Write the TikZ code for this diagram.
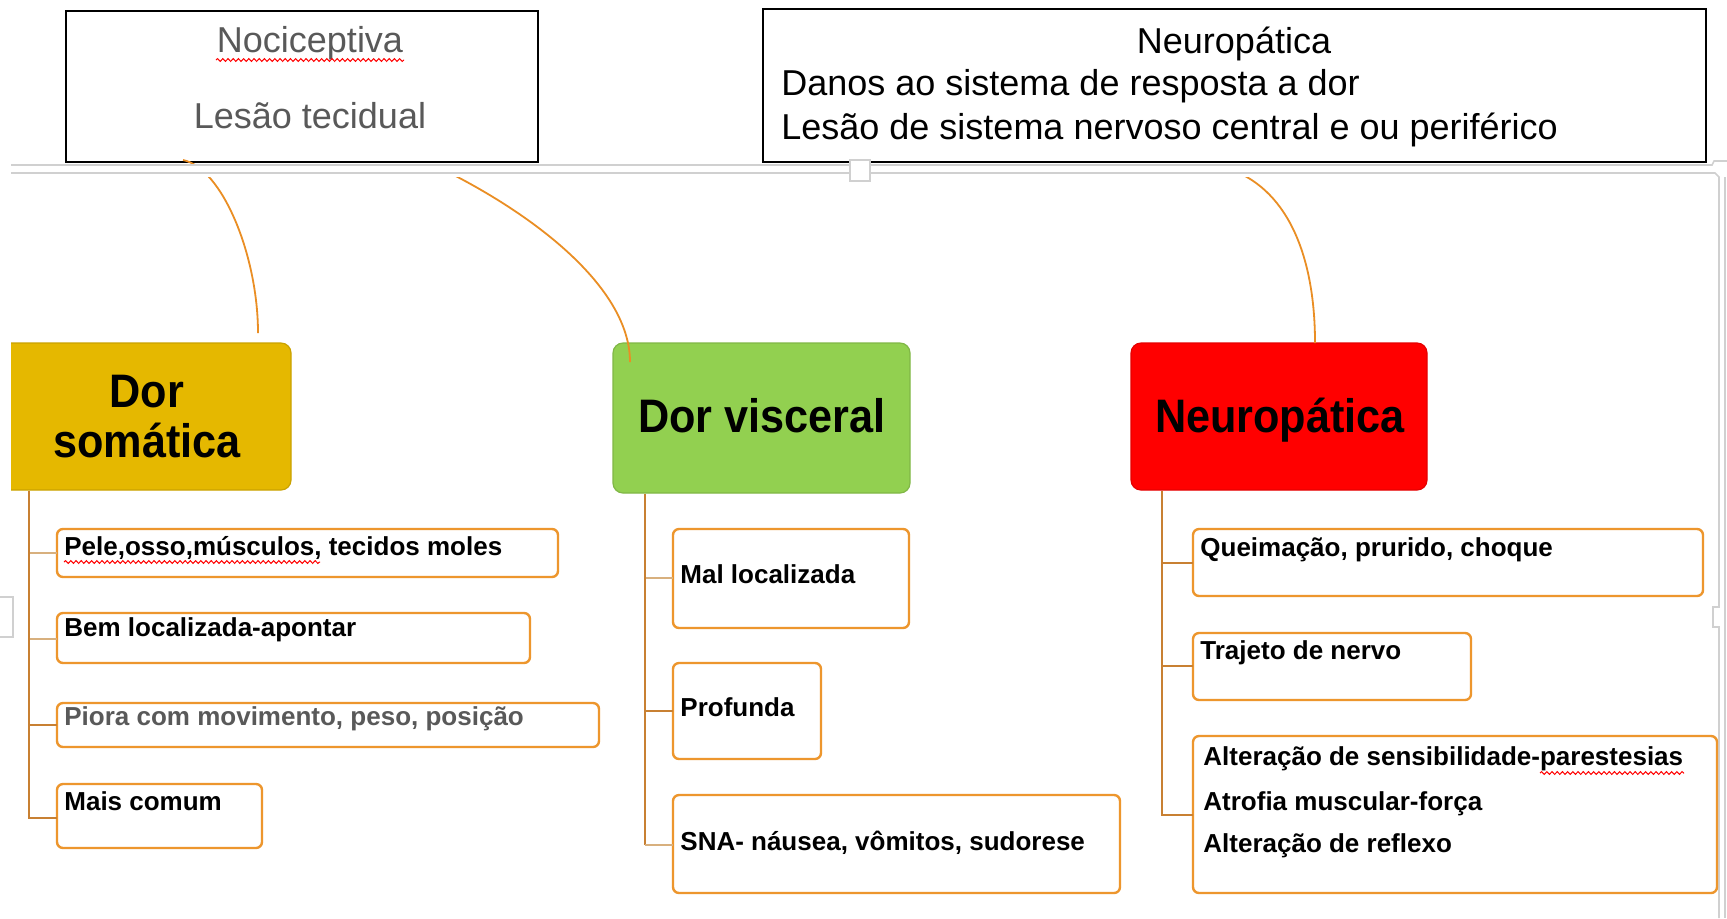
\documentclass[tikz,border=0pt]{standalone}
\usepackage{fontspec}
\setmainfont{Liberation Sans}
\newfontfamily\titlef[FakeStretch=0.92]{Liberation Sans}
\usetikzlibrary{fit,calc,decorations.pathmorphing}
\definecolor{somc}{RGB}{229,184,0}
\definecolor{visc}{RGB}{146,208,80}
\definecolor{neuc}{RGB}{255,0,0}
\definecolor{boxo}{RGB}{237,150,45}
\definecolor{trunkc}{RGB}{200,128,50}
\definecolor{connl}{RGB}{216,176,126}
\definecolor{curvec}{RGB}{234,142,36}
\definecolor{graytxt}{RGB}{89,89,89}
\definecolor{framec}{RGB}{208,208,208}
\begin{document}
\begin{tikzpicture}[x=0.5pt,y=-0.5pt,
  topbox/.style={draw=black, line width=1.3pt, fill=white, inner sep=0pt},
  titlebox/.style={rounded corners=5pt, inner sep=0pt, line width=0.6pt},
  item/.style={draw=boxo, line width=1.2pt, rounded corners=3pt, inner sep=0pt, fill=white},
  itemtext/.style={font=\fontsize{13}{22}\selectfont\bfseries, inner sep=0pt, anchor=base west},
  toptext/.style={font=\fontsize{18}{22}\selectfont, inner sep=0pt},
  titletext/.style={font=\titlef\fontsize{23.5}{25}\selectfont\bfseries, inner sep=0pt, anchor=base},
  trunk/.style={draw=trunkc, line width=1pt},
  trunkl/.style={draw=connl, line width=1.4pt},
  curve/.style={draw=curvec, line width=0.9pt},
  frame/.style={draw=framec, line width=0.8pt},
  spell/.style={draw=red, line width=0.5pt, decorate, decoration={snake, amplitude=0.7pt, segment length=2.6pt}}
]
\path[use as bounding box, fill=white] (0,0) rectangle (1727,918);

% top boxes
\node[topbox, fit={(66,11) (538,162)}] (noci) {};
\node[topbox, fit={(763,9) (1706,162)}] (neutop) {};
\node[toptext, text=graytxt, anchor=base] (nocit) at (310,52) {Nociceptiva};
\node[toptext, text=graytxt, anchor=base] (lesao) at (310,128) {Lesão tecidual};
\node[toptext, anchor=base] (neutopt) at (1234,53) {Neuropática};
\node[toptext, anchor=base west] (danos) at (781,95) {Danos ao sistema de resposta a dor};
\node[toptext, anchor=base west] (lesao2) at (781,139) {Lesão de sistema nervoso central e ou periférico};
\draw[spell] (216,60) -- (404,60);

% title boxes
\begin{scope}
\clip (11,0) rectangle (1727,918);
\node[titlebox, fill=somc, draw=somc!88!black, fit={(1,343) (291,490)}] (som) {};
\end{scope}
\node[titlebox, fill=visc, draw=visc!88!black, fit={(613,343) (910,493)}] (vis) {};
\node[titlebox, fill=neuc, draw=neuc!90!black, fit={(1131,343) (1427,490)}] (neu) {};
\node[titletext] (somt1) at (147,407) {Dor};
\node[titletext] (somt2) at (147,457) {somática};
\node[titletext] (vist) at (762,432) {Dor visceral};
\node[titletext] (neut) at (1280,432) {Neuropática};

% curves
\coordinate (c1a) at (183,160);
\coordinate (c1b) at (258,333);
\coordinate (c2a) at (444,170);
\coordinate (c2b) at (630,362);
\coordinate (c3a) at (1232,170);
\coordinate (c3b) at (1315,343);
\draw[curve] (c1a) .. controls (222,168) and (258,255) .. (c1b);
\draw[curve] (c2a) .. controls (540,218) and (630,290) .. (c2b);
\draw[curve] (c3a) .. controls (1290,192) and (1315,260) .. (c3b);

% canvas frame
\fill[white] (11,164.6) rectangle (1717,177);
\draw[frame] (11,165) -- (1712,165) -- (1714,161) -- (1727,161);
\draw[frame] (11,173) -- (1715,173) -- (1719,177) -- (1719,607) -- (1713,607) -- (1713,627) -- (1719,627) -- (1719,918);
\draw[frame] (1725,177) -- (1725,918);
\draw[frame, fill=white] (850,160) rectangle (870,181);
\draw[frame] (0,597) -- (13,597) -- (13,637) -- (0,637);

% somatica branch
\node[item, fit={(57,529) (558,577)}] (s1) {};
\node[item, fit={(57,613) (530,663)}] (s2) {};
\node[item, fit={(57,703) (599,747)}] (s3) {};
\node[item, fit={(57,784) (262,848)}] (s4) {};
\node[itemtext] (s1t) at (64,555) {Pele,osso,músculos, tecidos moles};
\node[itemtext] (s2t) at (64,636) {Bem localizada-apontar};
\node[itemtext, text=graytxt] (s3t) at (64,725) {Piora com movimento, peso, posição};
\node[itemtext] (s4t) at (64,810) {Mais comum};
\draw[spell] (64,562) -- (320,562);
\coordinate (sx) at (29,0);
\coordinate (s1c) at (57,553);
\coordinate (s2c) at (57,639);
\coordinate (s3c) at (57,725);
\coordinate (s4c) at (57,818);
\draw[trunkl] (sx |- s1c) -- (s1c);
\draw[trunkl] (sx |- s2c) -- (s2c);
\draw[trunk] (sx |- s3c) -- (s3c);
\draw[trunk] (som.south -| sx) -- (sx |- s4c) -- (s4c);

% visceral branch
\node[item, fit={(673,529) (909,628)}] (v1) {};
\node[item, fit={(673,663) (821,759)}] (v2) {};
\node[item, fit={(673,795) (1120,893)}] (v3) {};
\node[itemtext] (v1t) at (680,583) {Mal localizada};
\node[itemtext] (v2t) at (680,716) {Profunda};
\node[itemtext] (v3t) at (680,850) {SNA- náusea, vômitos, sudorese};
\coordinate (vx) at (645,0);
\coordinate (v1c) at (673,578);
\coordinate (v2c) at (673,711);
\coordinate (v3c) at (673,845);
\draw[trunkl] (vx |- v1c) -- (v1c);
\draw[trunk] (vx |- v2c) -- (v2c);
\draw[trunk] (vis.south -| vx) -- (vx |- v3c);
\draw[trunkl] (vx |- v3c) -- (v3c);

% neuropatica branch
\node[item, fit={(1193,529) (1703,596)}] (n1) {};
\node[item, fit={(1193,633) (1471,700)}] (n2) {};
\node[item, fit={(1193,736) (1717,893)}] (n3) {};
\node[itemtext] (n1t) at (1200,556) {Queimação, prurido, choque};
\node[itemtext] (n2t) at (1200,659) {Trajeto de nervo};
\node[itemtext] (n3t1) at (1203,765) {Alteração de sensibilidade-parestesias};
\node[itemtext] (n3t2) at (1203,810) {Atrofia muscular-força};
\node[itemtext] (n3t3) at (1203,852) {Alteração de reflexo};
\draw[spell] (1540,773) -- (1684,773);
\coordinate (nx) at (1162,0);
\coordinate (n1c) at (1193,563);
\coordinate (n2c) at (1193,666);
\coordinate (n3c) at (1193,815);
\draw[trunk] (nx |- n1c) -- (n1c);
\draw[trunk] (nx |- n2c) -- (n2c);
\draw[trunk] (neu.south -| nx) -- (nx |- n3c) -- (n3c);
\end{tikzpicture}
\end{document}
